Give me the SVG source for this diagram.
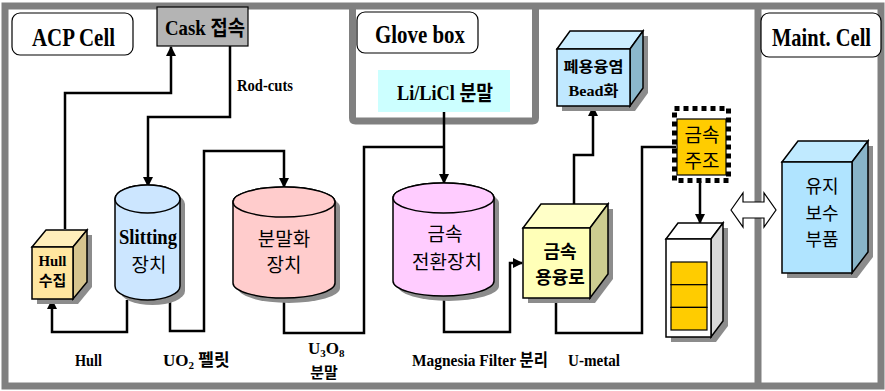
<svg xmlns="http://www.w3.org/2000/svg" width="885" height="391" viewBox="0 0 885 391">
<style>
.frame{fill:none;stroke:#808080;stroke-width:7}
.lbl{fill:#fff;stroke:#000;stroke-width:1.2}
.ln{stroke:#000;stroke-width:2.5;fill:none}
.ol{stroke:#000;stroke-width:1.5}
.sh{fill:#8c8c8c}
.lt{font-family:"Liberation Serif","Noto Sans CJK KR",serif;font-weight:bold;fill:#000}
.kt{font-family:"Noto Sans CJK KR","Noto Sans",sans-serif;fill:#000}
</style>
<defs>
<marker id="ah" viewBox="0 0 10 10" refX="9" refY="5" markerWidth="10" markerHeight="10" markerUnits="userSpaceOnUse" orient="auto">
<path d="M0,0 L10,5 L0,10 Z" fill="#000"/>
</marker>
</defs>
<rect width="885" height="391" fill="#fff"/>
<!-- frames -->
<g id="frames">
<rect class="frame" x="5" y="6" width="876" height="380"/>
<line class="frame" x1="758" y1="6" x2="758" y2="386"/>
<path class="frame" d="M352.5,6 V118 Q352.5,121 355.5,121 H532.5 Q535.5,121 535.5,118 V6"/>
</g>
<!-- section labels -->
<g id="acp-cell">
<rect class="lbl" x="12" y="13" width="121" height="42" rx="8"/>
<text class="lt" x="32" y="46" font-size="25" textLength="83" lengthAdjust="spacingAndGlyphs">ACP Cell</text>
</g>
<g id="glove-box">
<rect class="lbl" x="357" y="12" width="121" height="41" rx="8"/>
<text class="lt" x="375" y="43" font-size="25" textLength="90" lengthAdjust="spacingAndGlyphs">Glove box</text>
</g>
<g id="maint-cell">
<rect class="lbl" x="761" y="13" width="120" height="44" rx="8"/>
<text class="lt" font-size="25" transform="translate(772,46) scale(0.82,1)">Maint. Cell</text>
</g>
<!-- connectors -->
<g id="connectors">
<path class="ln" d="M65,229 V93 H171 V47" marker-end="url(#ah)"/>
<path class="ln" d="M230,46 V117 H148 V186" marker-end="url(#ah)"/>
<path class="ln" d="M127,300 V332 H52 V300" marker-end="url(#ah)"/>
<path class="ln" d="M170,300 V331 H204 V151 H284 V187" marker-end="url(#ah)"/>
<path class="ln" d="M284,298 V333 H364 V147 H444"/>
<path class="ln" d="M444,112 V183" marker-end="url(#ah)"/>
<path class="ln" d="M444,296 V332 H510 V263 H522" marker-end="url(#ah)"/>
<path class="ln" d="M574,204 V155 H593 V107" marker-end="url(#ah)"/>
<path class="ln" d="M556,298 V333 H642 V147 H676"/>
<path class="ln" d="M700,181 V223" marker-end="url(#ah)"/>
<path d="M731,210 L743,193 V202 H764 V193 L776,210 L764,227 V218 H743 V227 Z" fill="#fff" stroke="#000" stroke-width="1.2"/>
</g>
<!-- Cask -->
<g id="cask">
<rect x="157" y="7" width="91" height="39" fill="#b4b4b4" stroke="#000" stroke-width="1.2"/>
<text class="lt" x="165" y="35" font-size="21" textLength="80" lengthAdjust="spacingAndGlyphs">Cask 접속</text>
</g>
<text class="lt" x="237" y="91" font-size="17" textLength="56" lengthAdjust="spacingAndGlyphs">Rod-cuts</text>
<!-- Li/LiCl -->
<g id="li-licl">
<rect x="378" y="70" width="132" height="42" fill="#ccffff"/>
<text class="lt" x="397" y="100" font-size="21" textLength="96" lengthAdjust="spacingAndGlyphs">Li/LiCl 분말</text>
</g>
<!-- Hull 수집 -->
<g id="hull">
<path class="sh" d="M37,252 L51,235 H92 V287 L78,304 H37 Z"/>
<path class="ol" fill="#ffeebb" d="M32,247 L46,230 H87 L73,247 Z"/>
<path class="ol" fill="#d6c48e" d="M73,247 L87,230 V282 L73,299 Z"/>
<rect class="ol" x="32" y="247" width="41" height="52" fill="#ffe6a0"/>
<text class="lt" x="52.5" y="266" font-size="15" text-anchor="middle" textLength="28" lengthAdjust="spacingAndGlyphs">Hull</text>
<text class="kt" x="52.5" y="286" font-size="15" font-weight="bold" text-anchor="middle">수집</text>
</g>
<!-- Slitting -->
<g id="slitting">
<path class="sh" d="M120,204 A32.5,14 0 0 1 185,204 V291 A32.5,14 0 0 1 120,291 Z"/>
<path class="ol" fill="#cce6ff" d="M115,199 A32.5,14 0 0 1 180,199 V286 A32.5,14 0 0 1 115,286 Z"/>
<ellipse class="ol" cx="147.5" cy="199" rx="32.5" ry="14" fill="#cce6ff"/>
<text class="lt" x="148" y="244" font-size="22" text-anchor="middle" textLength="58" lengthAdjust="spacingAndGlyphs">Slitting</text>
<text class="kt" x="149" y="272" font-size="19" text-anchor="middle">장치</text>
</g>
<!-- 분말화 -->
<g id="powder">
<path class="sh" d="M238,207 A51,15 0 0 1 340,207 V288 A51,15 0 0 1 238,288 Z"/>
<path class="ol" fill="#ffcccc" d="M233,202 A51,15 0 0 1 335,202 V283 A51,15 0 0 1 233,283 Z"/>
<ellipse class="ol" cx="284" cy="202" rx="51" ry="15" fill="#ffcccc"/>
<text class="kt" x="284" y="246" font-size="19" text-anchor="middle">분말화</text>
<text class="kt" x="284" y="272" font-size="19" text-anchor="middle">장치</text>
</g>
<!-- 금속 전환장치 -->
<g id="convert">
<path class="sh" d="M398,203 A50.5,15 0 0 1 499,203 V286 A50.5,15 0 0 1 398,286 Z"/>
<path class="ol" fill="#ffccff" d="M393,198 A50.5,15 0 0 1 494,198 V281 A50.5,15 0 0 1 393,281 Z"/>
<ellipse class="ol" cx="443.5" cy="198" rx="50.5" ry="15" fill="#ffccff"/>
<text class="kt" x="445" y="241" font-size="19" text-anchor="middle">금속</text>
<text class="kt" x="447" y="269" font-size="19" text-anchor="middle">전환장치</text>
</g>
<!-- 금속 용융로 -->
<g id="melter">
<path class="sh" d="M528,233 L546,209 H613 V279 L595,303 H528 Z"/>
<path class="ol" fill="#ffffc8" d="M523,228 L541,204 H608 L590,228 Z"/>
<path class="ol" fill="#cccc90" d="M590,228 L608,204 V274 L590,298 Z"/>
<rect class="ol" x="523" y="228" width="67" height="70" fill="#ffffb8"/>
<text class="kt" x="560" y="258" font-size="18" font-weight="bold" text-anchor="middle">금속</text>
<text class="kt" x="560" y="284" font-size="18" font-weight="bold" text-anchor="middle">용융로</text>
</g>
<!-- 폐용융염 Bead화 -->
<g id="bead">
<path class="sh" d="M562,54 L575,36 H648 V93 L635,111 H562 Z"/>
<path class="ol" fill="#cceeff" d="M557,49 L570,31 H643 L630,49 Z"/>
<path class="ol" fill="#8bb8cc" d="M630,49 L643,31 V88 L630,106 Z"/>
<rect class="ol" x="557" y="49" width="73" height="57" fill="#c0e8ff"/>
<text class="kt" x="593.5" y="72" font-size="15" font-weight="bold" text-anchor="middle" textLength="60" lengthAdjust="spacingAndGlyphs">폐용융염</text>
<text class="lt" x="593.5" y="96" font-size="15" text-anchor="middle" textLength="50" lengthAdjust="spacingAndGlyphs">Bead화</text>
</g>
<!-- 금속 주조 -->
<g id="casting">
<rect x="677" y="119" width="49" height="56" fill="#ffcc00" stroke="#000" stroke-width="1.2"/>
<rect x="674.5" y="108.5" width="54" height="72" fill="none" stroke="#000" stroke-width="5" stroke-dasharray="5,4"/>
<text class="kt" x="702" y="142" font-size="19" text-anchor="middle">금속</text>
<text class="kt" x="702" y="168" font-size="19" text-anchor="middle">주조</text>
</g>
<!-- storage rack -->
<g id="rack">
<path class="sh" d="M671,244 L683,228 H728 V326 L716,342 H671 Z"/>
<path class="ol" fill="#fff" d="M666,239 L678,223 H723 L711,239 Z"/>
<path class="ol" fill="#d8d8d8" d="M711,239 L723,223 V321 L711,337 Z"/>
<rect class="ol" x="666" y="239" width="45" height="98" fill="#fff"/>
<rect x="671" y="262" width="36" height="22.7" fill="#ffcc00" stroke="#000" stroke-width="1.2"/>
<rect x="671" y="284.7" width="36" height="22.7" fill="#ffcc00" stroke="#000" stroke-width="1.2"/>
<rect x="671" y="307.4" width="36" height="22.6" fill="#ffcc00" stroke="#000" stroke-width="1.2"/>
</g>
<!-- 유지 보수 부품 -->
<g id="parts">
<path class="sh" d="M787,167 L803,146 H873 V257 L857,278 H787 Z"/>
<path class="ol" fill="#c0eaff" d="M782,162 L798,141 H868 L852,162 Z"/>
<path class="ol" fill="#88b4c8" d="M852,162 L868,141 V252 L852,273 Z"/>
<rect class="ol" x="782" y="162" width="70" height="111" fill="#b0e4ff"/>
<text class="kt" x="822" y="193" font-size="18" text-anchor="middle">유지</text>
<text class="kt" x="822" y="220" font-size="18" text-anchor="middle">보수</text>
<text class="kt" x="822" y="246" font-size="18" text-anchor="middle">부품</text>
</g>
<!-- bottom labels -->
<text class="lt" x="75" y="366" font-size="17" textLength="27" lengthAdjust="spacingAndGlyphs">Hull</text>
<text class="lt" x="163" y="366" font-size="17">UO<tspan font-size="11" dy="3">2</tspan><tspan dy="-3"> 펠릿</tspan></text>
<text class="lt" x="308" y="354" font-size="17">U<tspan font-size="11" dy="3">3</tspan><tspan dy="-3">O</tspan><tspan font-size="11" dy="3">8</tspan></text>
<text class="kt" x="324" y="378" font-size="15" font-weight="bold" text-anchor="middle">분말</text>
<text class="lt" x="412" y="366" font-size="17" textLength="136" lengthAdjust="spacingAndGlyphs">Magnesia Filter 분리</text>
<text class="lt" x="568" y="366" font-size="17" textLength="52" lengthAdjust="spacingAndGlyphs">U-metal</text>
</svg>
